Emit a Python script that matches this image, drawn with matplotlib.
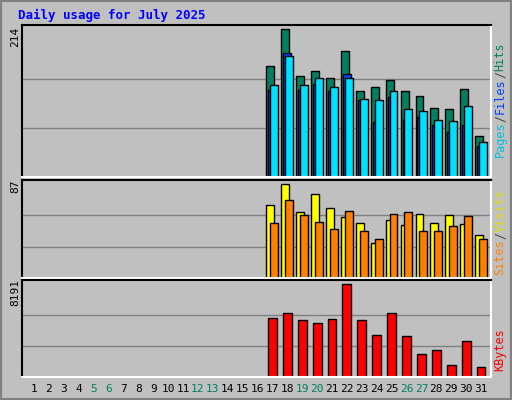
import matplotlib
matplotlib.use("Agg")
import matplotlib.pyplot as plt
from matplotlib.patches import Rectangle

days = list(range(17, 32))
hits = [161, 214, 147, 154, 144, 183, 125, 131, 141, 124, 118, 100, 99, 128, 59]
files = [126, 180, 126, 135, 125, 150, 112, 80, 116, 84, 87, 75, 65, 75, 45]
pages = [134, 175, 134, 144, 131, 143, 113, 112, 125, 99, 96, 83, 81, 103, 51]
sites = [67, 87, 61, 78, 65, 56, 51, 32, 54, 49, 59, 51, 58, 50, 40]
visits = [51, 72, 58, 52, 45, 62, 43, 36, 59, 61, 43, 43, 48, 57, 36]
kbytes = [5221, 5581, 5041, 4771, 5131, 8191, 5041, 3691, 5581, 3600, 1980, 2340, 1080, 3150, 900]
weekends = [5, 6, 12, 13, 19, 20, 26, 27]

BG = "#c0c0c0"
MONO = "DejaVu Sans Mono"
W, H = 512, 400

fig = plt.figure(figsize=(W / 100, H / 100), dpi=100, facecolor=BG)
# bevel frame
fig.patches.append(Rectangle((0, 0), 1, 1, transform=fig.transFigure, fill=False,
                             edgecolor="#808080", lw=3))

def mkax(top, bottom):
    ax = fig.add_axes([22 / W, (H - bottom) / H, 469 / W, (bottom - top) / H])
    ax.set_facecolor(BG)
    ax.set_xlim(0.2, 31.67)
    ax.set_xticks([]); ax.set_yticks([])
    for s in ("left", "top"):
        ax.spines[s].set_color("black")
    for s in ("right", "bottom"):
        ax.spines[s].set_color("white")
    for s in ax.spines.values():
        s.set_linewidth(1.5)
    return ax

def grid(ax, top):
    for f in (1 / 3, 2 / 3):
        ax.axhline(top * f, color="#808080", lw=1, zorder=0)

kw = dict(edgecolor="black", linewidth=1, width=0.53, zorder=2)

ax1 = mkax(25, 177)
ax1.set_ylim(0, 214 * 147 / 147 * 1.03)
grid(ax1, 214)
ax1.bar([d - 0.13 for d in days], hits, color="#008060", **kw)
ax1.bar(days, files, color="#0040ff", **kw)
ax1.bar([d + 0.13 for d in days], pages, color="#00e0ff", **kw)

ax2 = mkax(180, 278)
ax2.set_ylim(0, 87 * 1.04)
grid(ax2, 87)
ax2.bar([d - 0.13 for d in days], sites, color="#ffff00", **kw)
ax2.bar([d + 0.13 for d in days], visits, color="#ff8000", **kw)

ax3 = mkax(280, 377)
ax3.set_ylim(0, 8191 * 1.04)
grid(ax3, 8191)
ax3.bar(days, kbytes, color="#ff0000", edgecolor="black", linewidth=1, width=0.6, zorder=2)

fig.text(18 / W, 1 - 15 / H, "Daily usage for July 2025", color="#0000ff", fontsize=9,
         fontweight="bold", family=MONO, va="center")
for y, t in ((37, "214"), (186, "87"), (293, "8191")):
    fig.text(15 / W, 1 - y / H, t, rotation=90, fontsize=8, family=MONO, ha="center", va="center")

def side(parts, ymid):
    # stacked vertical label, read bottom to top
    total = sum(len(p) for p, _ in parts)
    ch = 7.2
    y = ymid + total * ch / 2
    for txt, col in parts:
        n = len(txt)
        fig.text(500 / W, 1 - (y - n * ch / 2) / H, txt, rotation=90, color=col, fontsize=8.5,
                 family=MONO, ha="center", va="center")
        y -= n * ch

side([("Pages", "#00c0e0"), ("/", "#404040"), ("Files", "#0040ff"), ("/", "#404040"),
      ("Hits", "#008060")], 100)
side([("Sites", "#ff8000"), ("/", "#404040"), ("Visits", "#e0e000")], 232)
side([("KBytes", "#ff0000")], 350)

for d in range(1, 32):
    x = (22 + (d - 0.2) * 469 / 31.47) / W
    fig.text(x, 1 - 389 / H, str(d), fontsize=8, family=MONO, ha="center", va="center",
             color="#008060" if d in weekends else "black")

fig.savefig("out.png", dpi=100, facecolor=BG)
